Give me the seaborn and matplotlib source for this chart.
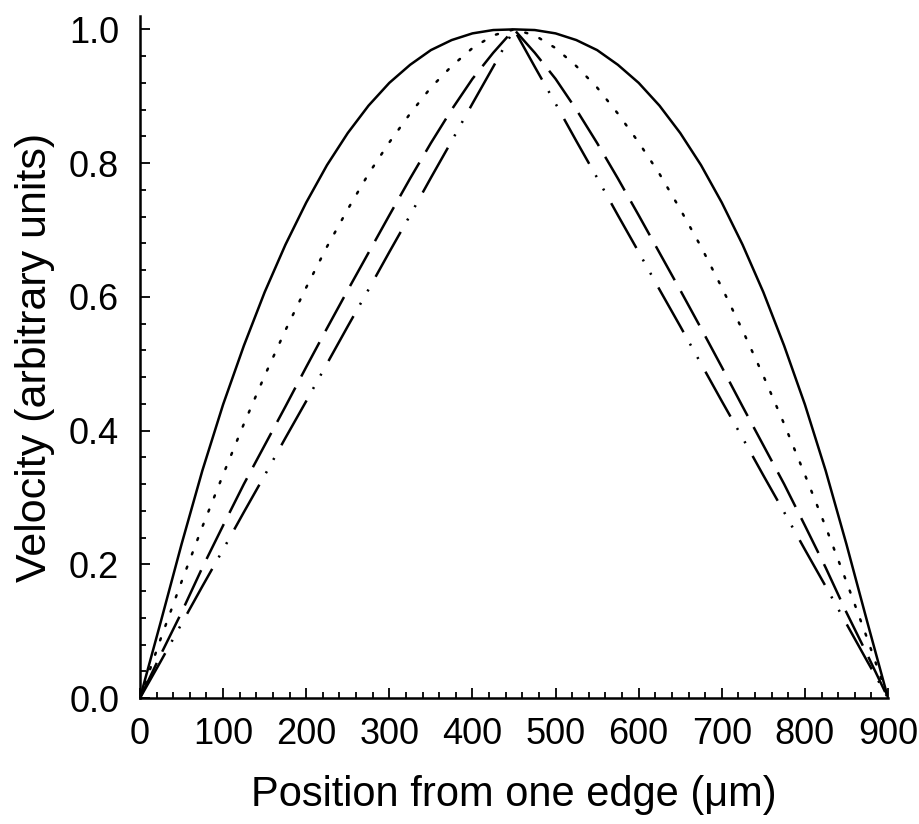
import matplotlib
matplotlib.use("Agg")
import matplotlib.pyplot as plt
import seaborn as sns
import pandas as pd
from matplotlib.ticker import MultipleLocator

sns.set_style("ticks")
plt.rcParams['font.family'] = ['Liberation Sans', 'DejaVu Sans']
plt.rcParams['lines.scale_dashes'] = False

position = [0, 25, 50, 75, 100, 125, 150, 175, 200, 225, 250, 275, 300, 325, 350, 375, 400, 425, 450,
            475, 500, 525, 550, 575, 600, 625, 650, 675, 700, 725, 750, 775, 800, 825, 850, 875, 900]

solid = [0.0, 0.114, 0.230, 0.340, 0.439, 0.527, 0.607, 0.678, 0.741, 0.797, 0.845, 0.886, 0.920, 0.947, 0.969, 0.984, 0.994, 0.999, 1.0,
         0.999, 0.994, 0.984, 0.969, 0.947, 0.920, 0.886, 0.845, 0.797, 0.741, 0.678, 0.607, 0.527, 0.439, 0.340, 0.230, 0.114, 0.0]

dotted = [0.0, 0.089, 0.174, 0.256, 0.334, 0.410, 0.482, 0.550, 0.614, 0.675, 0.731, 0.784, 0.831, 0.874, 0.913, 0.945, 0.972, 0.991, 1.0,
          0.991, 0.972, 0.945, 0.913, 0.874, 0.831, 0.784, 0.731, 0.675, 0.614, 0.550, 0.482, 0.410, 0.334, 0.256, 0.174, 0.089, 0.0]

dashed = [0.0, 0.065, 0.128, 0.195, 0.258, 0.320, 0.378, 0.436, 0.495, 0.553, 0.610, 0.666, 0.722, 0.777, 0.830, 0.880, 0.926, 0.965, 1.0,
          0.965, 0.926, 0.880, 0.830, 0.777, 0.722, 0.666, 0.610, 0.553, 0.495, 0.436, 0.378, 0.320, 0.258, 0.195, 0.128, 0.065, 0.0]

dashdot = [0.0, 0.055, 0.111, 0.167, 0.222, 0.278, 0.333, 0.389, 0.444, 0.5, 0.556, 0.611, 0.667, 0.722, 0.778, 0.833, 0.889, 0.944, 1.0,
           0.944, 0.889, 0.833, 0.778, 0.722, 0.667, 0.611, 0.556, 0.5, 0.444, 0.389, 0.333, 0.278, 0.222, 0.167, 0.111, 0.055, 0.0]

x_ticks = [0, 100, 200, 300, 400, 500, 600, 700, 800, 900]
y_ticks = [0.0, 0.2, 0.4, 0.6, 0.8, 1.0]

df = pd.DataFrame({"x": position, "solid": solid, "dotted": dotted,
                   "dashed": dashed, "dashdot": dashdot})

fig = plt.figure(figsize=(9.19, 8.24), dpi=100)
ax = fig.add_axes([140/919, 1-698/824, (888-140)/919, (698-16)/824])

styles = {
    "solid": "-",
    "dotted": (0, (1.5, 9.5)),
    "dashed": (0, (28, 9)),
    "dashdot": (0, (37, 9.5, 1.5, 9.5, 1.5, 10.5)),
}
for col, ls in styles.items():
    sns.lineplot(data=df, x="x", y=col, ax=ax, color="black", linewidth=1.8,
                 linestyle=ls, dash_capstyle="round" if col == "dotted" else "butt",
                 solid_capstyle="round", solid_joinstyle="round")

ax.set_xlim(0, 900)
ax.set_ylim(0, 1.02)
ax.set_xticks(x_ticks)
ax.set_yticks(y_ticks)
ax.set_yticklabels([f"{v:.1f}" for v in y_ticks])
ax.xaxis.set_minor_locator(MultipleLocator(20))
ax.yaxis.set_minor_locator(MultipleLocator(0.04))
ax.tick_params(which="both", direction="in", color="black", width=1.3, labelsize=26, labelcolor="black")
ax.tick_params(which="major", length=7)
ax.tick_params(which="minor", length=4.5)
ax.tick_params(axis="x", pad=14)
ax.tick_params(axis="y", pad=15)
for s in ["top", "right"]:
    ax.spines[s].set_visible(False)
for s in ["left", "bottom"]:
    ax.spines[s].set_linewidth(1.8)
    ax.spines[s].set_color("black")

ax.set_xlabel("Position from one edge (\u03bcm)", fontsize=30, labelpad=16, color="black")
ax.set_ylabel("Velocity (arbitrary units)", fontsize=31, labelpad=10, color="black")

fig.savefig("out.png", dpi=100, facecolor="white")
